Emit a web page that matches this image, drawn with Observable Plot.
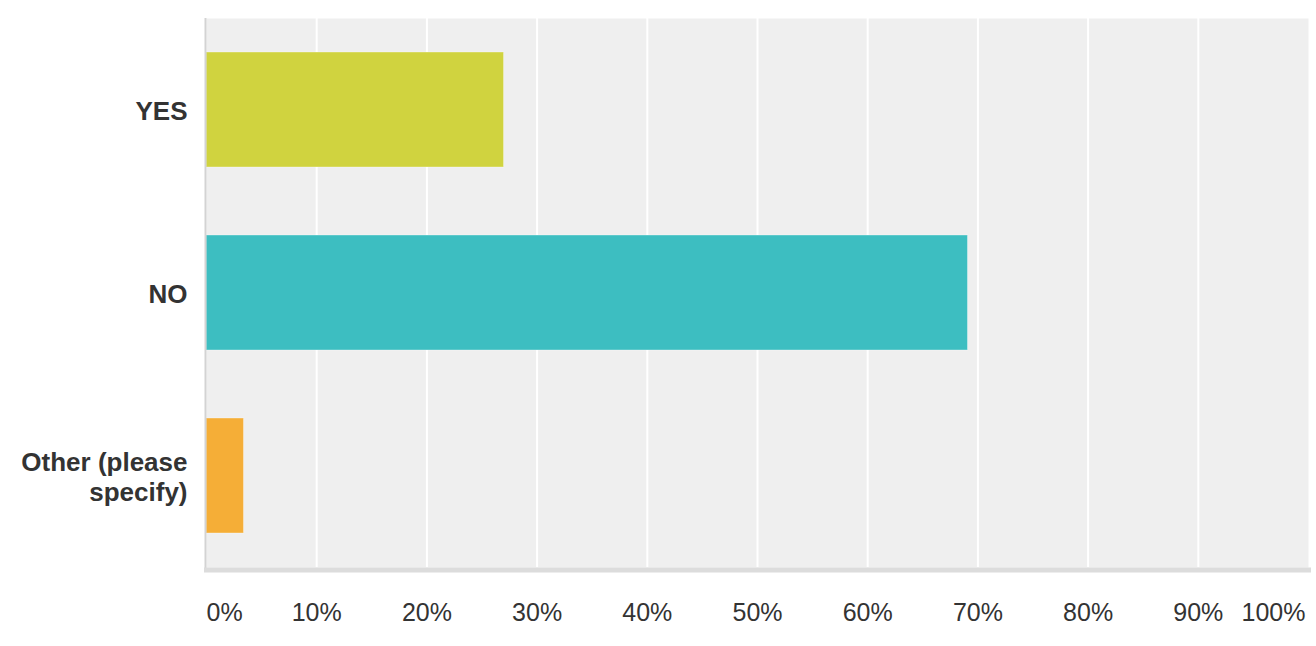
<!DOCTYPE html>
<html>
<head>
<meta charset="utf-8">
<script src="https://cdn.jsdelivr.net/npm/d3@7"></script>
<script src="https://cdn.jsdelivr.net/npm/@observablehq/plot@0.6"></script>
<style>
  html, body { margin: 0; padding: 0; background: #ffffff; }
  #chart svg { display: block; }
</style>
</head>
<body>
<div id="chart"></div>
<script>
const categories = ["YES", "NO", "Other (please specify)"];
const values = [27.0, 69.1, 3.4];
const colors = ["#d0d33f", "#3dbec1", "#f5ae37"];
const tickValues = [0, 10, 20, 30, 40, 50, 60, 70, 80, 90, 100];
const tickLabels = ["0%", "10%", "20%", "30%", "40%", "50%", "60%", "70%", "80%", "90%", "100%"];

const data = categories.map((c, i) => ({category: c, value: values[i]}));
const ticks = tickValues.map((v, i) => ({v, label: tickLabels[i]}));
const midTicks = ticks.slice(1, -1);
const firstTick = ticks.slice(0, 1);
const lastTick = ticks.slice(-1);

const font = "'Liberation Sans', Arial, Helvetica, sans-serif";

const chart = Plot.plot({
  width: 1316,
  height: 646,
  marginLeft: 206,
  marginRight: 8,
  marginTop: 18,
  marginBottom: 79,
  style: {fontFamily: font, background: "#ffffff", color: "#333333"},
  x: {domain: [0, 100], axis: null},
  y: {domain: categories, paddingInner: 0.372, paddingOuter: 0.186, axis: null},
  color: {domain: categories, range: colors},
  marks: [
    Plot.frame({fill: "#efefef"}),
    Plot.ruleX(midTicks, {x: "v", stroke: "#ffffff", strokeWidth: 2}),
    Plot.barX(data, {x: "value", y: "category", fill: "category", stroke: "#ffffff", strokeOpacity: 0.35, strokeWidth: 1}),
    Plot.ruleX([0], {stroke: "#d3d3d3", strokeWidth: 2, dx: -1, insetBottom: -2}),
    Plot.frame({anchor: "bottom", stroke: "#dcdcdc", strokeWidth: 5, dy: 2.5}),
    Plot.axisY({
      label: null,
      tickSize: 0,
      tickPadding: 19,
      fontSize: 26,
      fontWeight: "bold",
      fill: "#333333",
      lineHeight: 1.15,
      tickFormat: d => d === "Other (please specify)" ? "Other (please\nspecify)" : d
    }),
    Plot.text(midTicks, {x: "v", text: "label", frameAnchor: "bottom", lineAnchor: "top", dy: 36, fontSize: 25, fill: "#333333", textAnchor: "middle"}),
    Plot.text(firstTick, {x: "v", text: "label", frameAnchor: "bottom", lineAnchor: "top", dy: 36, fontSize: 25, fill: "#333333", textAnchor: "start"}),
    Plot.text(lastTick, {x: "v", text: "label", frameAnchor: "bottom", lineAnchor: "top", dy: 36, dx: -3, fontSize: 25, fill: "#333333", textAnchor: "end"})
  ]
});
document.getElementById("chart").appendChild(chart);
</script>
</body>
</html>
